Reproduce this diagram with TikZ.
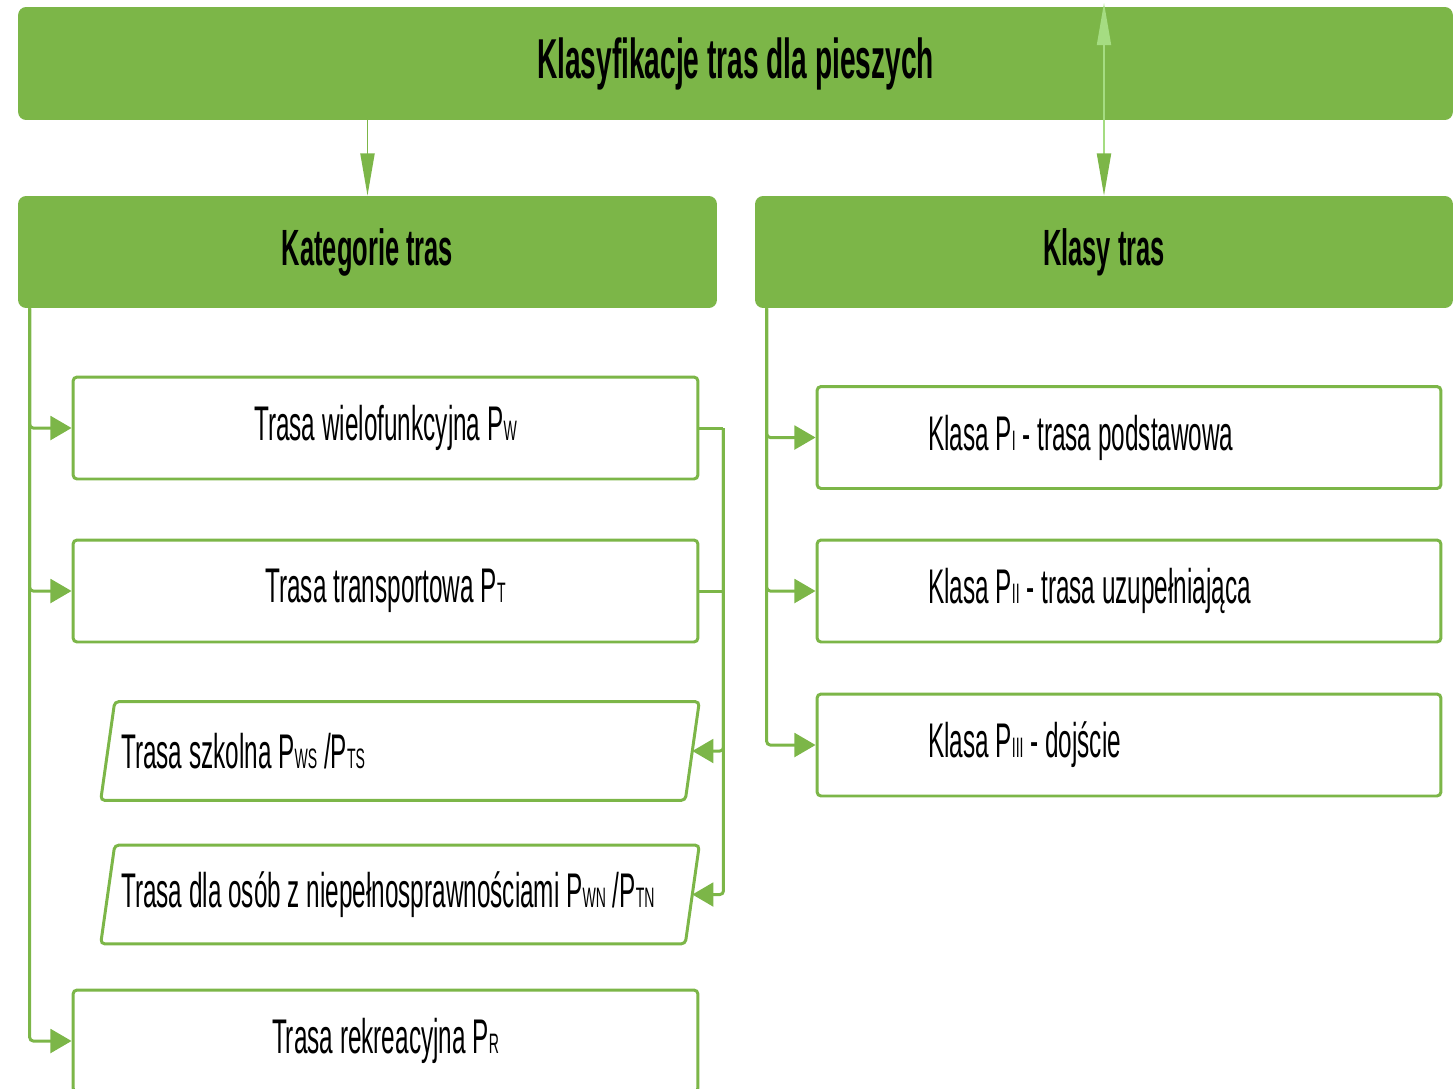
\documentclass[tikz,border=0pt]{standalone}
\usepackage{fontspec}
\setmainfont{Liberation Sans}[FakeStretch=0.5]
\usetikzlibrary{arrows.meta}
\definecolor{leaf}{RGB}{124,182,72}
\definecolor{sprout}{RGB}{165,220,130}
\tikzset{head/.style={fill=leaf, rounded corners=0.16cm, minimum height=2.24cm, inner sep=0pt, font=\fontsize{29}{34}\selectfont\bfseries}}
\tikzset{title/.style={head, minimum width=28.7cm, minimum height=2.26cm, font=\fontsize{32}{38}\selectfont\bfseries}}
\tikzset{route/.style={draw=leaf, line width=1.7pt, rounded corners=0.08cm, fill=white, minimum width=12.5cm, minimum height=2.04cm, inner sep=0pt, font=\fontsize{27.7}{32}\selectfont}}
\tikzset{plate/.style={minimum width=11.68cm, minimum height=1.96cm, inner sep=0pt, font=\fontsize{27.7}{32}\selectfont}}
\tikzset{rim/.style={draw=leaf, line width=1.7pt, rounded corners=0.08cm}}
\tikzset{klass/.style={route, minimum width=12.48cm}}
\tikzset{link/.style={draw=leaf, line width=1.7pt, rounded corners=2pt, -{Triangle[length=12pt, width=13.5pt]}}}
\tikzset{feed/.style={draw=leaf, line width=1pt, -{Triangle[length=24pt, width=8pt]}}}
\newcommand{\ix}[1]{{\fontsize{16}{16}\selectfont #1}}
\newcommand{\slantline}[1]{\makebox[11.16cm][l]{#1}}
\newcommand{\klassline}[1]{\makebox[8.04cm][l]{#1}}
\newcommand{\skewframe}[1]{\draw[rim] ([xshift=-0.14cm]#1.south west) -- ([xshift=0.14cm]#1.north west) -- ([xshift=0.14cm]#1.north east) -- ([xshift=-0.14cm]#1.south east) -- cycle;}

\begin{document}
\begin{tikzpicture}[x=0.02cm, y=-0.02cm]
\useasboundingbox (0,0) rectangle (1455,1089);
\clip (0,0) rectangle (1455,1089);
% headers
\node[title] (top) at (735.5,63.5) {Klasyfikacje tras dla pieszych};
\node[head, minimum width=13.98cm] (kat) at (367.5,252) {Kategorie tras};
\node[head, minimum width=13.96cm] (klasy) at (1104,252) {Klasy tras};
% categories
\node[route] (w) at (385.5,428) {Trasa wielofunkcyjna P\ix{W}};
\node[route] (t) at (385.5,591) {Trasa transportowa P\ix{T}};
\node[plate] (szk) at (400,751) {\slantline{Trasa szkolna P\ix{WS} /P\ix{TS}}};
\node[plate] (niep) at (400,894.5) {\slantline{Trasa dla osób z niepełnosprawnościami P\ix{WN} /P\ix{TN}}};
\skewframe{szk}
\skewframe{niep}
\node[route] (r) at (385.5,1041) {Trasa rekreacyjna P\ix{R}};
% classes
\node[klass] (k1) at (1129,437.5) {\klassline{Klasa P\ix{I} - trasa podstawowa}};
\node[klass] (k2) at (1129,591) {\klassline{Klasa P\ix{II} - trasa uzupełniająca}};
\node[klass] (k3) at (1129,745) {\klassline{Klasa P\ix{III} - dojście}};
\coordinate (tip) at (1104,3);

\draw[feed] (top.south -| kat.north) -- (kat.north);
\draw[sprout, line width=1pt, {Triangle[length=24pt, width=8pt]}-{Triangle[length=24pt, width=8pt, color=leaf]}] (tip) -- (klasy.north);

\draw[link] ([xshift=0.24cm]kat.south west) |- (w.west);
\draw[link] ([xshift=0.24cm]kat.south west) |- (t.west);
\draw[link] ([xshift=0.24cm]kat.south west) |- (r.west);

\draw[leaf, line width=1.7pt] (w.east) -- ++(24,0) coordinate (bus);
\draw[leaf, line width=1.7pt] (t.east) -- (t.east -| bus);
\draw[link] (bus) |- (szk.east);
\draw[link] (bus) |- (niep.east);

\draw[link] ([xshift=0.24cm]klasy.south west) |- (k1.west);
\draw[link] ([xshift=0.24cm]klasy.south west) |- (k2.west);
\draw[link] ([xshift=0.24cm]klasy.south west) |- (k3.west);
\end{tikzpicture}
\end{document}
